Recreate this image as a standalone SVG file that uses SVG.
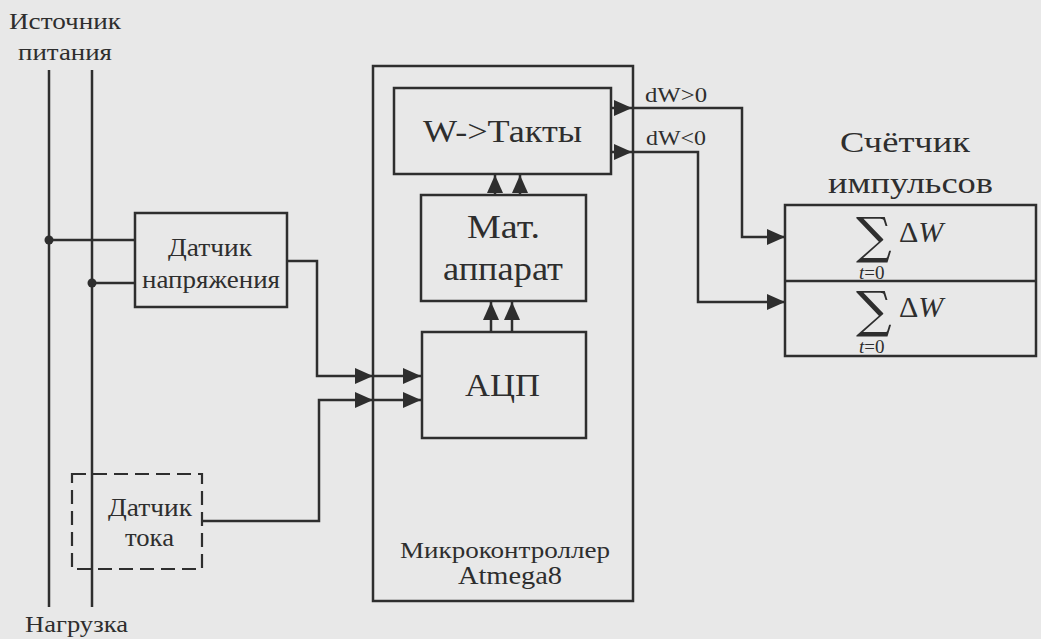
<svg xmlns="http://www.w3.org/2000/svg" width="1041" height="639" viewBox="0 0 1041 639" font-family="Liberation Serif, serif">
<defs>
<style>
.bg{fill:#e8e8e8}
.box{fill:none;stroke:#2e2e2e;stroke-width:2.5}
.dash{fill:none;stroke:#2e2e2e;stroke-width:2.2;stroke-dasharray:14 7}
.ln{fill:none;stroke:#2e2e2e;stroke-width:2.5}
.arr{marker-end:url(#ah)}
svg text, g text, text, tspan{font-family:"Liberation Serif",serif !important}
text.sg{font-family:"DejaVu Serif",serif !important}
</style>
<marker id="ah" markerUnits="userSpaceOnUse" markerWidth="18" markerHeight="16" viewBox="0 0 18 16" refX="18" refY="8" orient="auto">
<path d="M0,0 L18,8 L0,16 Z" fill="#2e2e2e"/>
</marker>
</defs>
<rect class="bg" x="0" y="0" width="1041" height="639"/>

<g id="connectors">
<line class="ln" x1="49" y1="70" x2="49" y2="607"/>
<line class="ln" x1="92" y1="70" x2="92" y2="607"/>
<circle cx="49" cy="240" r="4.5" fill="#2e2e2e"/>
<circle cx="92" cy="283" r="4.5" fill="#2e2e2e"/>
<line class="ln" x1="49" y1="240" x2="135" y2="240"/>
<line class="ln" x1="92" y1="283" x2="135" y2="283"/>
<path class="ln arr" d="M287,261 H317 V376 H373"/>
<path class="ln arr" d="M373,376 H421"/>
<path class="ln arr" d="M202,521 H319 V400 H373"/>
<path class="ln arr" d="M373,400 H421"/>
<path class="ln arr" d="M495,195 V175"/>
<path class="ln arr" d="M520,195 V175"/>
<path class="ln arr" d="M491,331 V302"/>
<path class="ln arr" d="M512,331 V302"/>
<path class="ln arr" d="M611,108 H632"/>
<path class="ln arr" d="M632,108 H742 V237 H785"/>
<path class="ln arr" d="M611,152 H632"/>
<path class="ln arr" d="M632,152 H698 V302 H785"/>
<text x="645" y="102" font-family="Liberation Serif" style="font-family:'Liberation Serif',serif !important" font-size="21" fill="#2e2e2e" textLength="62" lengthAdjust="spacingAndGlyphs">dW&gt;0</text>
<text x="646" y="145" font-family="Liberation Serif" style="font-family:'Liberation Serif',serif !important" font-size="21" fill="#2e2e2e" textLength="60" lengthAdjust="spacingAndGlyphs">dW&lt;0</text>
</g>

<g id="source">
<text x="9" y="29" font-family="Liberation Serif" style="font-family:'Liberation Serif',serif !important" font-size="24" fill="#2e2e2e" textLength="112" lengthAdjust="spacingAndGlyphs">Источник</text>
<text x="18" y="60" font-family="Liberation Serif" style="font-family:'Liberation Serif',serif !important" font-size="24" fill="#2e2e2e" textLength="94" lengthAdjust="spacingAndGlyphs">питания</text>
</g>
<g id="load">
<text x="25" y="632" font-family="Liberation Serif" style="font-family:'Liberation Serif',serif !important" font-size="24" fill="#2e2e2e" textLength="103" lengthAdjust="spacingAndGlyphs">Нагрузка</text>
</g>

<g id="voltage-sensor">
<rect class="box" x="135" y="213" width="152" height="94"/>
<text x="168" y="256" font-family="Liberation Serif" style="font-family:'Liberation Serif',serif !important" font-size="26" fill="#2e2e2e" textLength="84" lengthAdjust="spacingAndGlyphs">Датчик</text>
<text x="142" y="288" font-family="Liberation Serif" style="font-family:'Liberation Serif',serif !important" font-size="26" fill="#2e2e2e" textLength="138" lengthAdjust="spacingAndGlyphs">напряжения</text>
</g>

<g id="current-sensor">
<rect class="dash" x="72" y="474" width="130" height="95"/>
<text x="108" y="516" font-family="Liberation Serif" style="font-family:'Liberation Serif',serif !important" font-size="26" fill="#2e2e2e" textLength="84" lengthAdjust="spacingAndGlyphs">Датчик</text>
<text x="125" y="546" font-family="Liberation Serif" style="font-family:'Liberation Serif',serif !important" font-size="26" fill="#2e2e2e" textLength="49" lengthAdjust="spacingAndGlyphs">тока</text>
</g>

<g id="mcu">
<rect class="box" x="373" y="66" width="260" height="535"/>
<text x="400" y="558" font-family="Liberation Serif" style="font-family:'Liberation Serif',serif !important" font-size="24" fill="#2e2e2e" textLength="210" lengthAdjust="spacingAndGlyphs">Микроконтроллер</text>
<text x="458" y="584" font-family="Liberation Serif" style="font-family:'Liberation Serif',serif !important" font-size="25" fill="#2e2e2e" textLength="104" lengthAdjust="spacingAndGlyphs">Atmega8</text>
</g>

<g id="w-takty">
<rect class="box" x="394" y="88" width="217" height="86"/>
<text x="423" y="142" font-family="Liberation Serif" style="font-family:'Liberation Serif',serif !important" font-size="31" fill="#2e2e2e" textLength="159" lengthAdjust="spacingAndGlyphs">W-&gt;Такты</text>
</g>

<g id="mat">
<rect class="box" x="421" y="195" width="165" height="106"/>
<text x="467" y="238" font-family="Liberation Serif" style="font-family:'Liberation Serif',serif !important" font-size="34" fill="#2e2e2e" textLength="73" lengthAdjust="spacingAndGlyphs">Мат.</text>
<text x="443" y="280" font-family="Liberation Serif" style="font-family:'Liberation Serif',serif !important" font-size="34" fill="#2e2e2e" textLength="120" lengthAdjust="spacingAndGlyphs">аппарат</text>
</g>

<g id="adc">
<rect class="box" x="422" y="332" width="164" height="106"/>
<text x="465" y="396" font-family="Liberation Serif" style="font-family:'Liberation Serif',serif !important" font-size="32" fill="#2e2e2e" textLength="75" lengthAdjust="spacingAndGlyphs">АЦП</text>
</g>

<g id="counter">
<text x="840" y="152" font-family="Liberation Serif" style="font-family:'Liberation Serif',serif !important" font-size="29" fill="#2e2e2e" textLength="130" lengthAdjust="spacingAndGlyphs">Счётчик</text>
<text x="828" y="193" font-family="Liberation Serif" style="font-family:'Liberation Serif',serif !important" font-size="29" fill="#2e2e2e" textLength="165" lengthAdjust="spacingAndGlyphs">импульсов</text>
<rect class="box" x="785" y="205" width="251" height="151"/>
<line class="ln" x1="785" y1="281" x2="1036" y2="281"/>
<text class="sg" x="856" y="253" font-family="DejaVu Serif" style="font-family:'DejaVu Serif',serif !important" font-size="50" fill="#2e2e2e">∑</text>
<text x="899" y="242" font-family="Liberation Serif" style="font-family:'Liberation Serif',serif !important" font-size="30" fill="#2e2e2e">Δ<tspan font-style="italic">W</tspan></text>
<text x="859" y="279" font-family="Liberation Serif" style="font-family:'Liberation Serif',serif !important" font-size="19" fill="#2e2e2e"><tspan font-style="italic">t</tspan>=0</text>
<text class="sg" x="856" y="327" font-family="DejaVu Serif" style="font-family:'DejaVu Serif',serif !important" font-size="50" fill="#2e2e2e">∑</text>
<text x="899" y="317" font-family="Liberation Serif" style="font-family:'Liberation Serif',serif !important" font-size="30" fill="#2e2e2e">Δ<tspan font-style="italic">W</tspan></text>
<text x="859" y="353" font-family="Liberation Serif" style="font-family:'Liberation Serif',serif !important" font-size="19" fill="#2e2e2e"><tspan font-style="italic">t</tspan>=0</text>
</g>
</svg>
